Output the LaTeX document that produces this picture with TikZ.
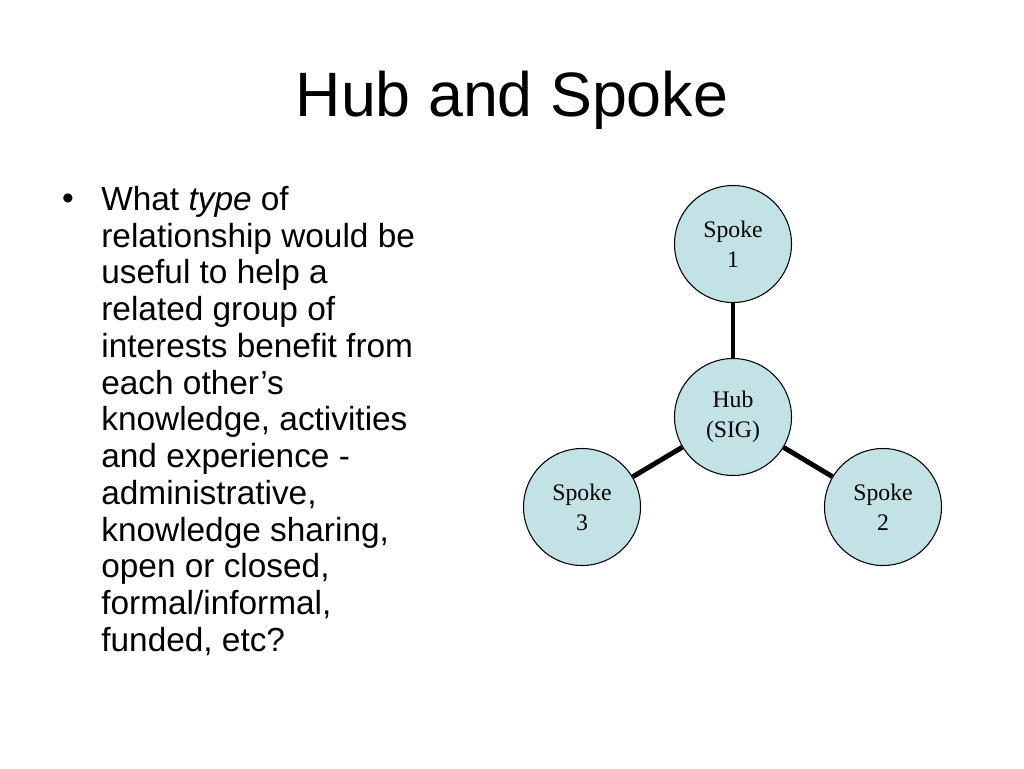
\documentclass[tikz,border=0pt]{standalone}
\usepackage{fontspec}
\setmainfont{Liberation Sans}
\newfontfamily\seriff{Liberation Serif}
\definecolor{spokefill}{HTML}{C2E2E6}
\begin{document}
\begin{tikzpicture}[x=0.02cm,y=-0.02cm,
  ball/.style={circle,draw=black,line width=0.6pt,fill=spokefill,minimum size=117*0.02cm,inner sep=0pt,align=center,font=\seriff\fontsize{13.5}{17}\selectfont},
  spokeline/.style={line width=2.8pt}]
\useasboundingbox (0,0) rectangle (1024,768);
\node (title) at (512,100) {\fontsize{35.7}{40}\selectfont Hub and Spoke};
\node (bullet) at (68,202) {\fontsize{19}{21}\selectfont •};
\node[anchor=north west,inner sep=0pt,align=left,font=\fontsize{19}{20.9}\selectfont] (body) at (101,186)
{What \textit{type} of\\relationship would be\\useful to help a\\related group of\\interests benefit from\\each other\symbol{39}s\\knowledge, activities\\and experience -\\administrative,\\knowledge sharing,\\open or closed,\\formal/informal,\\funded, etc?};
\node[ball] (hub) at (733,417) {Hub\\(SIG)};
\node[ball] (s1) at (733,244) {Spoke\\1};
\node[ball] (s2) at (883,507) {Spoke\\2};
\node[ball] (s3) at (582,507) {Spoke\\3};
\draw[spokeline] (hub) -- (s1);
\draw[spokeline] (hub) -- (s2);
\draw[spokeline] (hub) -- (s3);
\end{tikzpicture}
\end{document}
